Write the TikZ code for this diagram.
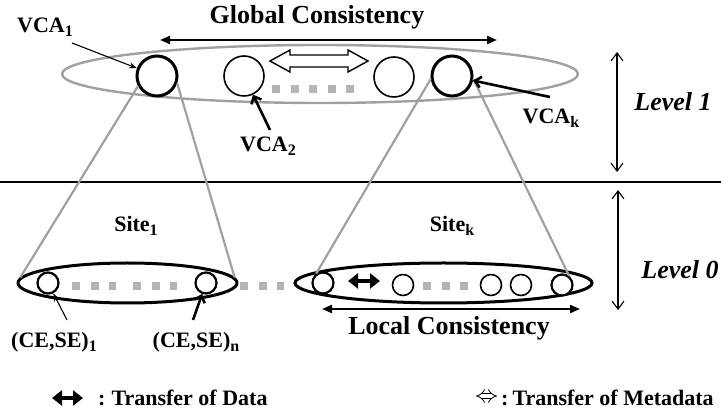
\documentclass[tikz,border=0pt]{standalone}
\usepackage{fontspec}
\setmainfont{Liberation Serif}
\usetikzlibrary{arrows.meta,shapes.geometric}
\definecolor{conegray}{HTML}{A0A0A0}
\definecolor{dotgray}{HTML}{B4B4B4}
\newcommand\lsub[1]{\raisebox{-4pt}{\fontsize{16}{16}\selectfont #1}}
\begin{document}
\begin{tikzpicture}[x=1pt,y=-1pt,
  lbl/.style={font=\bfseries\fontsize{22}{25}\selectfont, inner sep=0pt},
  big/.style={font=\bfseries\fontsize{26}{30}\selectfont, inner sep=0pt},
  lvl/.style={font=\bfseries\itshape\fontsize{26}{30}\selectfont, inner sep=0pt},
  leg/.style={font=\bfseries\fontsize{22}{26}\selectfont, inner sep=0pt},
  vca/.style={circle, draw, inner sep=0pt, minimum size=40pt, fill=white},
  ce/.style={circle, draw, line width=2.2pt, inner sep=0pt, minimum size=21pt, fill=white},
  cone/.style={draw=conegray, line width=2.2pt},
  dots/.style={draw=dotgray, line width=8pt, dash pattern=on 8pt off 10.5pt},
  site/.style={ellipse, draw, line width=3pt, inner sep=0pt},
  cons/.style={line width=2pt, {Triangle[length=10pt,width=8pt]}-{Triangle[length=10pt,width=8pt]}},
  lev/.style={line width=1.1pt, {Straight Barb[length=8pt,width=12pt]}-{Straight Barb[length=8pt,width=12pt]}},
  thickptr/.style={line width=2.6pt, -{Straight Barb[length=6pt,width=11pt]}},
  thinptr/.style={line width=1.1pt, -{Stealth[length=8pt,width=6pt]}},
  dataarr/.style={line width=4pt, {Triangle[length=10pt,width=15pt]}-{Triangle[length=10pt,width=15pt]}}
]
\useasboundingbox (0,0) rectangle (721,411);

% level separator
\coordinate (sepL) at (0,182);
\coordinate (sepR) at (721,182);
\draw[line width=1.3pt] (sepL) -- (sepR);

% top ellipse
\node[ellipse, draw=conegray, line width=2.4pt, minimum width=516pt, minimum height=58pt, inner sep=0pt] (top) at (320,74) {};

% top dots
\draw[dots] (272,89.5) -- (354,89.5);

% hollow double arrow (metadata)
\draw[line width=1.4pt, fill=white] (270,61) -- (290,50) -- (290,55) -- (348,55) -- (348,50) -- (368,61)
  -- (348,72) -- (348,67) -- (290,67) -- (290,72) -- cycle;

% VCA circles
\node[vca, line width=3pt] (vca1) at (157,76) {};
\node[vca, line width=1.6pt] (vca2) at (244,76) {};
\node[vca, line width=1.6pt] (vca3) at (394,77) {};
\node[vca, line width=3pt] (vcak) at (452,76) {};

% site ellipses
\node[site, minimum width=219pt, minimum height=40pt] (site1) at (127.5,283) {};
\node[site, minimum width=297pt, minimum height=40pt] (sitek) at (443.5,283) {};

% dots in sites
\draw[dots] (72,286) -- (116,286);
\draw[dots] (133,286) -- (177,286);
\draw[dots] (240,286) -- (284,286);
\draw[dots] (423,286) -- (468,286);

% small circles
\node[ce] (c11) at (48,283) {};
\node[ce] (c1n) at (206,283) {};
\node[ce] (ck1) at (323,283) {};
\node[ce, line width=1.6pt] (ck2) at (403,285) {};
\node[ce, line width=1.6pt] (ck3) at (491,285) {};
\node[ce, line width=1.6pt] (ck4) at (521,285) {};
\node[ce] (ckn) at (562,285) {};

% cone lines
\draw[cone] (vca1.208) -- (site1.177);
\draw[cone] (vca1.340) -- (site1.3);
\draw[cone] (vcak.188) -- (ck1.126);
\draw[cone] (vcak.352) -- (ckn.52);

% data arrow in site k
\draw[dataarr] (348,281) -- (380,281);

% Global consistency
\coordinate (gL) at (160,40);
\coordinate (gR) at (497,40);
\draw[cons] (gL) -- (gR);
\node[big] (global) at (317,17) {Global Consistency};

% Local consistency
\coordinate (lL) at (322,309);
\coordinate (lR) at (580,309);
\draw[cons] (lL) -- (lR);
\node[big] (local) at (449,328) {Local Consistency};

% levels
\coordinate (l1t) at (617,52);
\coordinate (l1b) at (617,172);
\draw[lev] (l1t) -- (l1b);
\node[lvl] (lev1) at (673,102) {Level 1};
\coordinate (l0t) at (618,190);
\coordinate (l0b) at (618,310);
\draw[lev] (l0t) -- (l0b);
\node[lvl] (lev0) at (680,270) {Level 0};

% labels
\node[lbl] (vca1lab) at (45,27) {VCA\lsub{1}};
\node[lbl] (vca2lab) at (268,146) {VCA\lsub{2}};
\node[lbl] (vcaklab) at (551,118) {VCA\lsub{k}};
\node[lbl] (site1lab) at (136,226) {Site\lsub{1}};
\node[lbl] (siteklab) at (452,226) {Site\lsub{k}};
\node[lbl] (ce1lab) at (54,342) {(CE,SE)\lsub{1}};
\node[lbl] (cenlab) at (196,342) {(CE,SE)\lsub{n}};

% pointers
\coordinate (p1) at (72,43);
\draw[thinptr] (p1) -- (vca1);
\coordinate (p2) at (270,130);
\draw[thickptr] (p2) -- (vca2);
\coordinate (pk) at (550,97);
\draw[thickptr] (pk) -- (vcak);
\coordinate (pc1) at (67,320);
\draw[thinptr] (pc1) -- (c11);
\coordinate (pcn) at (193,320);
\draw[thickptr] (pcn) -- (c1n);

% legend
\draw[dataarr] (52,398) -- (83,398);
\node[leg, anchor=west] (legdata) at (98,398) {:\hspace{6pt}Transfer of Data};
\draw[double, double distance=4pt, line width=0.8pt, {Implies[length=7pt]}-{Implies[length=7pt]}] (476,396) -- (497,396);
\node[leg, anchor=west] (legmeta) at (501,398) {:\hspace{4pt}Transfer of Metadata};
\end{tikzpicture}
\end{document}
